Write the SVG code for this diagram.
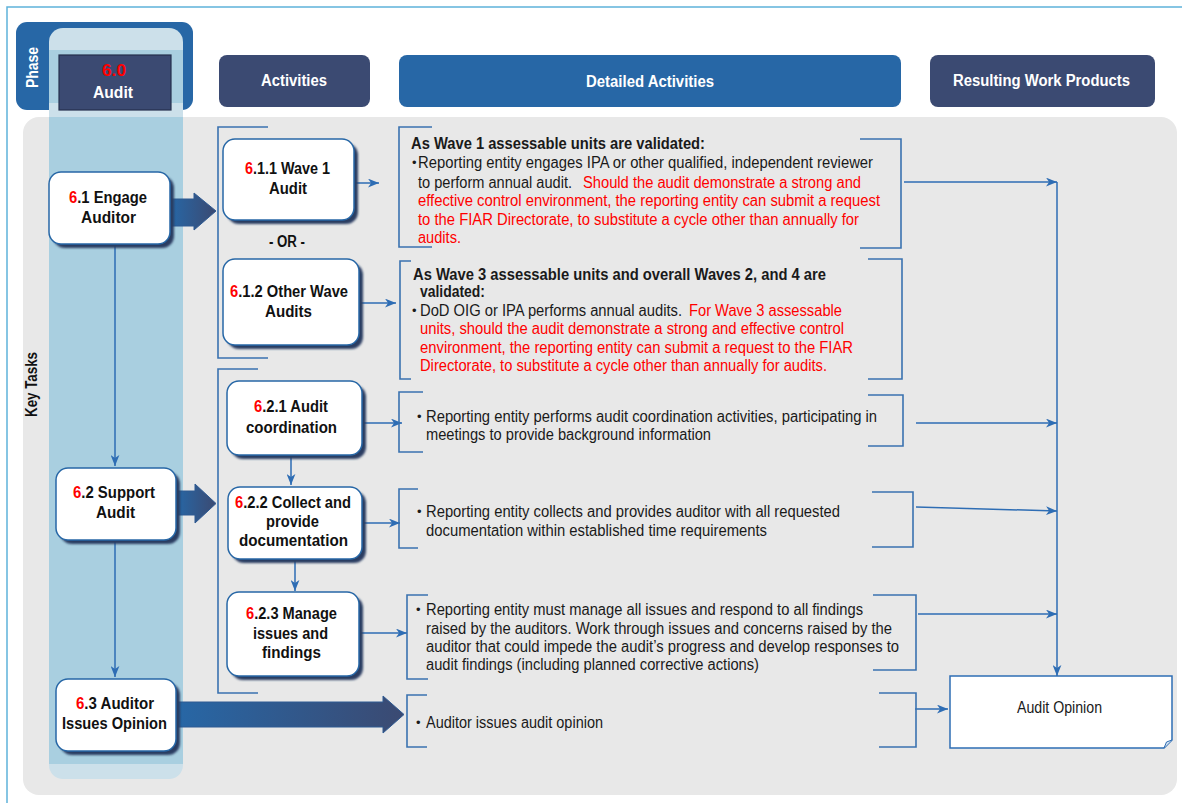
<svg xmlns="http://www.w3.org/2000/svg" width="1182" height="803" viewBox="0 0 1182 803">
  <defs>
    <style>
      text { font-family: "Liberation Sans Narrow", "Liberation Sans", Arial, sans-serif; }
      .hdr { font-size: 16px; font-weight: bold; fill: #ffffff; }
      .ttl { font-size: 16px; font-weight: bold; fill: #111111; }
      .body { font-size: 16px; fill: #1a1a1a; }
      .bold { font-weight: bold; }
      .red { fill: #ff0000; }
      .bul { font-size: 13px; fill: #1a1a1a; }
      .node { fill: #ffffff; stroke: #2767a6; stroke-width: 1.5; }
      .shadow { fill: #2c3c62; filter: url(#soft); }
      .brk { fill: none; stroke: #3a72b0; stroke-width: 1.6; }
      .con { fill: none; stroke: #2e6db4; stroke-width: 1.5; marker-end: url(#ah); }
      .big { fill: url(#bigGrad); stroke: #2f5a92; stroke-width: 1; }
    </style>
    <filter id="soft" x="-10%" y="-10%" width="130%" height="130%">
      <feGaussianBlur stdDeviation="1.2"/>
    </filter>
    <linearGradient id="bigGrad" x1="0" y1="0" x2="1" y2="0">
      <stop offset="0" stop-color="#2767a6"/>
      <stop offset="1" stop-color="#3b4a72"/>
    </linearGradient>
    <marker id="ah" viewBox="0 0 10 8" refX="10" refY="4" markerWidth="11" markerHeight="9" markerUnits="userSpaceOnUse" orient="auto">
      <path d="M0,0 L10,4 L0,8 L2.8,4 Z" fill="#2e6db4"/>
    </marker>
  </defs>

  <!-- page frame -->
  <rect width="1182" height="803" fill="#ffffff"/>
  <path d="M7,803 V7 H1182" fill="none" stroke="#5fb3da" stroke-width="1.5"/>

  <!-- key tasks panel -->
  <rect x="23" y="117" width="1154" height="678" rx="16" fill="#e8e8e8"/>

  <!-- phase header -->
  <g id="phase-header">
    <rect x="16" y="22" width="177" height="88" rx="11" fill="#2767a6"/>
    <text class="hdr" transform="translate(38,67.5) rotate(-90)" text-anchor="middle" font-size="15" textLength="41" lengthAdjust="spacingAndGlyphs">Phase</text>
  </g>

  <!-- phase column -->
  <g id="phase-column">
    <rect x="49" y="28" width="134" height="751" rx="14" fill="#cce0ea"/>
    <rect x="49" y="50" width="134" height="53" fill="#a9cfe0"/>
    <rect x="49" y="117" width="134" height="647" fill="#a9cfe0"/>
  </g>

  <g id="phase-audit">
    <rect x="59" y="55" width="112" height="55" fill="#3b4a72" stroke="#25304d" stroke-width="1.2"/>
    <text class="hdr red" x="114" y="76" text-anchor="middle" font-size="15" textLength="24" lengthAdjust="spacingAndGlyphs">6.0</text>
    <text class="hdr" x="113" y="97.5" text-anchor="middle" textLength="40" lengthAdjust="spacingAndGlyphs">Audit</text>
  </g>

  <text class="ttl" transform="translate(37,384.5) rotate(-90)" text-anchor="middle" font-size="14" textLength="65" lengthAdjust="spacingAndGlyphs">Key Tasks</text>

  <!-- column headers -->
  <g id="hdr-activities">
    <rect x="219" y="55" width="151" height="52" rx="8" fill="#3b4a72"/>
    <text class="hdr" x="294" y="86" text-anchor="middle" textLength="66" lengthAdjust="spacingAndGlyphs">Activities</text>
  </g>
  <g id="hdr-detailed">
    <rect x="399" y="55" width="502" height="52" rx="8" fill="#2767a6"/>
    <text class="hdr" x="650" y="87" text-anchor="middle" textLength="128" lengthAdjust="spacingAndGlyphs">Detailed Activities</text>
  </g>
  <g id="hdr-products">
    <rect x="930" y="55" width="225" height="52" rx="8" fill="#3b4a72"/>
    <text class="hdr" x="1041.5" y="86" text-anchor="middle" textLength="177" lengthAdjust="spacingAndGlyphs">Resulting Work Products</text>
  </g>

  <!-- connectors -->
  <g id="connectors">
    <!-- brackets around activity groups -->
    <path class="brk" d="M268,127 H218 V358 H268"/>
    <path class="brk" d="M258,369 H218 V693 H258"/>

    <!-- wide transfer arrows -->
    <polygon class="big" points="170,199 194,199 194,193 216,211 194,230 194,226 170,226"/>
    <polygon class="big" points="176,491 195,491 195,484 216,503.5 195,523 195,515 176,515"/>
    <polygon class="big" points="176,702 383,702 383,696 404,714.5 383,733 383,727 176,727"/>

    <!-- key task chain -->
    <line class="con" x1="115" y1="244" x2="115" y2="466"/>
    <line class="con" x1="115" y1="540" x2="115" y2="677"/>

    <!-- activity chain -->
    <line class="con" x1="291" y1="455" x2="291" y2="485"/>
    <line class="con" x1="295" y1="559" x2="295" y2="591"/>

    <!-- activities to detailed activities -->
    <line class="con" x1="356" y1="183" x2="379" y2="183"/>
    <line class="con" x1="360" y1="303" x2="396" y2="303"/>
    <line class="con" x1="363" y1="423" x2="402" y2="423"/>
    <line class="con" x1="362" y1="523" x2="400" y2="523"/>
    <line class="con" x1="360" y1="633" x2="407" y2="633"/>

    <!-- detailed activities to work products -->
    <line class="con" x1="904" y1="182" x2="1057" y2="182"/>
    <line class="con" x1="916" y1="423" x2="1057" y2="423"/>
    <line class="con" x1="916" y1="507" x2="1057" y2="511"/>
    <line class="con" x1="918" y1="614" x2="1057" y2="614"/>
    <line class="con" x1="1057" y1="182" x2="1057" y2="676"/>
    <line class="con" x1="915" y1="709" x2="948" y2="709"/>
  </g>

  <!-- key tasks -->
  <g id="task-6-1">
    <rect class="shadow" x="53" y="176" width="121" height="72" rx="12"/>
    <rect class="node" x="49" y="172" width="121" height="72" rx="12"/>
    <text class="ttl" x="108" y="202.5" text-anchor="middle" textLength="78" lengthAdjust="spacingAndGlyphs"><tspan class="red">6</tspan>.1 Engage</text>
    <text class="ttl" x="108.5" y="222.5" text-anchor="middle" textLength="55" lengthAdjust="spacingAndGlyphs">Auditor</text>
  </g>
  <g id="task-6-2">
    <rect class="shadow" x="60" y="472" width="120" height="72" rx="12"/>
    <rect class="node" x="56" y="468" width="120" height="72" rx="12"/>
    <text class="ttl" x="114" y="498" text-anchor="middle" textLength="82" lengthAdjust="spacingAndGlyphs"><tspan class="red">6</tspan>.2 Support</text>
    <text class="ttl" x="115.5" y="518" text-anchor="middle" textLength="39" lengthAdjust="spacingAndGlyphs">Audit</text>
  </g>
  <g id="task-6-3">
    <rect class="shadow" x="60" y="683" width="120" height="72" rx="12"/>
    <rect class="node" x="56" y="679" width="120" height="72" rx="12"/>
    <text class="ttl" x="115" y="709" text-anchor="middle" textLength="78" lengthAdjust="spacingAndGlyphs"><tspan class="red">6</tspan>.3 Auditor</text>
    <text class="ttl" x="114.5" y="729" text-anchor="middle" textLength="105" lengthAdjust="spacingAndGlyphs">Issues Opinion</text>
  </g>

  <!-- activities -->
  <g id="act-6-1-1">
    <rect class="shadow" x="227" y="143" width="131" height="81" rx="12"/>
    <rect class="node" x="223" y="139" width="131" height="81" rx="12"/>
    <text class="ttl" x="287.5" y="174" text-anchor="middle" textLength="85" lengthAdjust="spacingAndGlyphs"><tspan class="red">6</tspan>.1.1 Wave 1</text>
    <text class="ttl" x="288" y="194" text-anchor="middle" textLength="38" lengthAdjust="spacingAndGlyphs">Audit</text>
  </g>
  <text class="ttl" x="287" y="246.5" text-anchor="middle" font-size="13" textLength="36" lengthAdjust="spacingAndGlyphs">- OR -</text>
  <g id="act-6-1-2">
    <rect class="shadow" x="227" y="263" width="136" height="86" rx="12"/>
    <rect class="node" x="223" y="259" width="136" height="86" rx="12"/>
    <text class="ttl" x="289" y="297" text-anchor="middle" textLength="118" lengthAdjust="spacingAndGlyphs"><tspan class="red">6</tspan>.1.2 Other Wave</text>
    <text class="ttl" x="288.5" y="316.5" text-anchor="middle" textLength="47" lengthAdjust="spacingAndGlyphs">Audits</text>
  </g>
  <g id="act-6-2-1">
    <rect class="shadow" x="231" y="385" width="135" height="74" rx="12"/>
    <rect class="node" x="227" y="381" width="135" height="74" rx="12"/>
    <text class="ttl" x="291" y="412" text-anchor="middle" textLength="74" lengthAdjust="spacingAndGlyphs"><tspan class="red">6</tspan>.2.1 Audit</text>
    <text class="ttl" x="291.5" y="432.5" text-anchor="middle" textLength="91" lengthAdjust="spacingAndGlyphs">coordination</text>
  </g>
  <g id="act-6-2-2">
    <rect class="shadow" x="232" y="491" width="134" height="72" rx="12"/>
    <rect class="node" x="228" y="487" width="134" height="72" rx="12"/>
    <text class="ttl" x="293" y="508" text-anchor="middle" textLength="116" lengthAdjust="spacingAndGlyphs"><tspan class="red">6</tspan>.2.2 Collect and</text>
    <text class="ttl" x="292.5" y="527" text-anchor="middle" textLength="53" lengthAdjust="spacingAndGlyphs">provide</text>
    <text class="ttl" x="293.5" y="546" text-anchor="middle" textLength="109" lengthAdjust="spacingAndGlyphs">documentation</text>
  </g>
  <g id="act-6-2-3">
    <rect class="shadow" x="231" y="596" width="132" height="84" rx="12"/>
    <rect class="node" x="227" y="592" width="132" height="84" rx="12"/>
    <text class="ttl" x="291.5" y="619" text-anchor="middle" textLength="91" lengthAdjust="spacingAndGlyphs"><tspan class="red">6</tspan>.2.3 Manage</text>
    <text class="ttl" x="290.5" y="639" text-anchor="middle" textLength="75" lengthAdjust="spacingAndGlyphs">issues and</text>
    <text class="ttl" x="291.5" y="658" text-anchor="middle" textLength="59" lengthAdjust="spacingAndGlyphs">findings</text>
  </g>

  <!-- detailed activities -->
  <g id="detail-wave1">
    <path class="brk" d="M432,127 H399 V247 H432"/>
    <path class="brk" d="M860,139 H901 V248 H860"/>
    <text class="body bold" x="411" y="149.3" textLength="294" lengthAdjust="spacingAndGlyphs">As Wave 1 assessable units are validated:</text>
    <text class="bul" x="412" y="167">•</text>
    <text class="body" x="418" y="168" textLength="455" lengthAdjust="spacingAndGlyphs">Reporting entity engages IPA or other qualified,  independent reviewer</text>
    <text class="body" x="418" y="187.5" textLength="154" lengthAdjust="spacingAndGlyphs">to perform annual audit.</text>
    <text class="body red" x="583" y="187.5" textLength="278" lengthAdjust="spacingAndGlyphs">Should the audit demonstrate a strong and</text>
    <text class="body red" x="418" y="206" textLength="462" lengthAdjust="spacingAndGlyphs">effective control environment, the reporting entity can submit a request</text>
    <text class="body red" x="418" y="224.5" textLength="441" lengthAdjust="spacingAndGlyphs">to the FIAR Directorate, to substitute a cycle  other than annually  for</text>
    <text class="body red" x="418" y="242.5" textLength="43" lengthAdjust="spacingAndGlyphs">audits.</text>
  </g>
  <g id="detail-other-waves">
    <path class="brk" d="M411,261 H400 V379 H411"/>
    <path class="brk" d="M868,259 H902 V379 H868"/>
    <text class="body bold" x="413" y="279.5" textLength="413" lengthAdjust="spacingAndGlyphs">As Wave 3 assessable units and overall Waves 2, and 4 are</text>
    <text class="body bold" x="420" y="296.5" textLength="65" lengthAdjust="spacingAndGlyphs">validated:</text>
    <text class="bul" x="412" y="315">•</text>
    <text class="body" x="420" y="316" textLength="262" lengthAdjust="spacingAndGlyphs">DoD OIG or IPA performs annual audits.</text>
    <text class="body red" x="689" y="316" textLength="153" lengthAdjust="spacingAndGlyphs">For Wave 3 assessable</text>
    <text class="body red" x="420" y="334" textLength="424" lengthAdjust="spacingAndGlyphs">units, should the audit demonstrate  a strong and effective  control</text>
    <text class="body red" x="420" y="352.5" textLength="433" lengthAdjust="spacingAndGlyphs">environment, the reporting entity can submit a request to the FIAR</text>
    <text class="body red" x="420" y="370.5" textLength="407" lengthAdjust="spacingAndGlyphs">Directorate, to substitute  a cycle  other than annually  for audits.</text>
  </g>
  <g id="detail-coordination">
    <path class="brk" d="M423,392 H399 V452 H423"/>
    <path class="brk" d="M868,395 H903 V446 H868"/>
    <text class="bul" x="417" y="420.5">•</text>
    <text class="body" x="426" y="421.5" textLength="451" lengthAdjust="spacingAndGlyphs">Reporting entity performs audit coordination  activities,  participating  in</text>
    <text class="body" x="426" y="439.5" textLength="285" lengthAdjust="spacingAndGlyphs">meetings to provide  background information</text>
  </g>
  <g id="detail-documentation">
    <path class="brk" d="M418,489 H399 V548 H418"/>
    <path class="brk" d="M872,492 H913 V547 H872"/>
    <text class="bul" x="417" y="516">•</text>
    <text class="body" x="426" y="517" textLength="414" lengthAdjust="spacingAndGlyphs">Reporting entity collects and provides  auditor with all  requested</text>
    <text class="body" x="426" y="535.5" textLength="341" lengthAdjust="spacingAndGlyphs">documentation within established  time requirements</text>
  </g>
  <g id="detail-issues">
    <path class="brk" d="M428,595 H407 V679 H428"/>
    <path class="brk" d="M873,595 H916 V670 H873"/>
    <text class="bul" x="416" y="614">•</text>
    <text class="body" x="426" y="615" textLength="437" lengthAdjust="spacingAndGlyphs">Reporting entity must manage all issues and respond to all findings</text>
    <text class="body" x="426" y="633.5" textLength="466" lengthAdjust="spacingAndGlyphs">raised by the auditors. Work through issues and concerns raised by the</text>
    <text class="body" x="426" y="651.5" textLength="473" lengthAdjust="spacingAndGlyphs">auditor that could impede the audit’s progress and develop responses to</text>
    <text class="body" x="426" y="669.5" textLength="333" lengthAdjust="spacingAndGlyphs">audit findings  (including  planned corrective actions)</text>
  </g>
  <g id="detail-opinion">
    <path class="brk" d="M427,695 H407 V747 H427"/>
    <path class="brk" d="M879,693 H916 V747 H879"/>
    <text class="bul" x="416" y="727">•</text>
    <text class="body" x="426" y="728" textLength="177" lengthAdjust="spacingAndGlyphs">Auditor issues  audit  opinion</text>
  </g>

  <!-- work product -->
  <g id="product-audit-opinion">
    <path d="M950,676 H1172 V740 L1164,748 H950 Z" fill="#ffffff" stroke="#2e6db4" stroke-width="1.5"/>
    <path d="M1164,748 L1166.5,742 L1172,740" fill="#d6e4f2" stroke="#2e6db4" stroke-width="1"/>
    <text class="body" x="1059.5" y="713" text-anchor="middle" textLength="85" lengthAdjust="spacingAndGlyphs">Audit Opinion</text>
  </g>
</svg>
